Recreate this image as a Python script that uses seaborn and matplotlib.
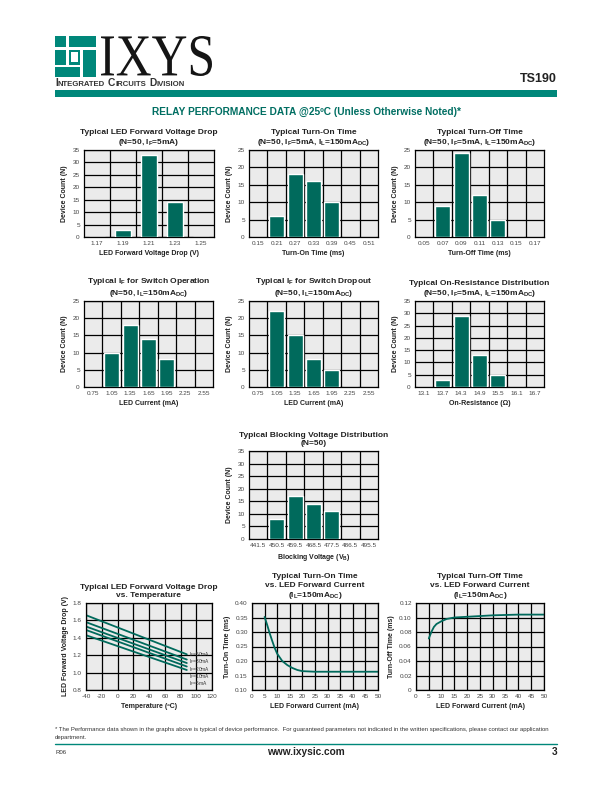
import numpy as np
import matplotlib
matplotlib.use('Agg')
import matplotlib.pyplot as plt
import seaborn as sns
from matplotlib.patches import Rectangle, PathPatch
from matplotlib.textpath import TextPath
from matplotlib.font_manager import FontProperties
from matplotlib.transforms import Affine2D

# ---- data ----
vf_bins = ['1.17', '1.19', '1.21', '1.23', '1.25']
vf_count = [0, 3, 33, 14, 0]
ton_bins = ['0.15', '0.21', '0.27', '0.33', '0.39', '0.45', '0.51']
ton_count = [0, 6, 18, 16, 10, 0, 0]
toff_bins = ['0.05', '0.07', '0.09', '0.11', '0.13', '0.15', '0.17']
toff_count = [0, 9, 24, 12, 5, 0, 0]
if_bins = ['0.75', '1.05', '1.35', '1.65', '1.95', '2.25', '2.55']
if_on_count = [0, 10, 18, 14, 8, 0, 0]
if_off_count = [0, 22, 15, 8, 5, 0, 0]
ron_bins = ['13.1', '13.7', '14.3', '14.9', '15.5', '16.1', '16.7']
ron_count = [0, 3, 29, 13, 5, 0, 0]
vb_bins = ['441.5', '450.5', '459.5', '468.5', '477.5', '486.5', '495.5']
vb_count = [0, 8, 17, 14, 11, 0, 0]

# LED forward voltage vs temperature (straight lines, end points)
temp = [-40, 88]
vf_lines = {
    '50mA': [1.66, 1.21],
    '30mA': [1.58, 1.15],
    '20mA': [1.53, 1.11],
    '10mA': [1.49, 1.07],
    '5mA': [1.43, 1.03],
}
vf_label_y = [1.21, 1.125, 1.04, 0.955, 0.87]

# turn-on / turn-off time vs LED current
ton_if = [5, 6, 7, 8, 9, 10, 12, 14, 16, 18, 20, 25, 30, 40, 50]
ton_ms = [0.352, 0.325, 0.296, 0.27, 0.245, 0.225, 0.20, 0.186, 0.176, 0.169, 0.165, 0.163, 0.163, 0.163, 0.163]
toff_if = [5, 6, 7, 8, 10, 12, 15, 20, 30, 40, 50]
toff_ms = [0.071, 0.080, 0.087, 0.091, 0.095, 0.098, 0.100, 0.101, 0.103, 0.104, 0.104]

TEAL = '#00877a'
BAR = '#006a5c'
BG = '#ebebeb'
TXT = '#222222'

sns.set_theme(style='white')
plt.rcParams['font.family'] = ['Liberation Sans', 'DejaVu Sans']
plt.rcParams['mathtext.fontset'] = 'custom'
plt.rcParams['mathtext.rm'] = 'Liberation Sans:bold'
plt.rcParams['mathtext.sf'] = 'Liberation Sans'
plt.rcParams['mathtext.default'] = 'rm'
plt.rcParams['axes.unicode_minus'] = False

W, H = 612, 792
fig = plt.figure(figsize=(W / 100, H / 100), dpi=100)

# page overlay in pixel coordinates
page = fig.add_axes([0, 0, 1, 1])
page.set_xlim(0, W)
page.set_ylim(H, 0)
page.axis('off')


def rect(x0, y0, x1, y1):
    return [x0 / W, 1 - y1 / H, (x1 - x0) / W, (y1 - y0) / H]


# ---- header ----
lx, ly, ls = 55, 36, 41
for a, b, c, d in [(0, 0, .28, .28), (.34, 0, 1, .28), (0, .34, .28, .70),
                   (0, .76, .62, 1), (.68, .34, 1, 1), (.34, .34, .62, .70)]:
    page.add_patch(Rectangle((lx + a * ls, ly + b * ls), (c - a) * ls, (d - b) * ls,
                             color=TEAL, lw=0))
page.add_patch(Rectangle((lx + .40 * ls, ly + .40 * ls), .16 * ls, .24 * ls, color='white', lw=0))

tp = TextPath((0, 0), 'IXYS', size=1, prop=FontProperties(family='Liberation Serif'))
bb = tp.get_extents()
tr = Affine2D().translate(-bb.x0, -bb.y0).scale(111 / bb.width, -40 / bb.height).translate(101, 76)
page.add_patch(PathPatch(tr.transform_path(tp), color='#151515', lw=0))

rend = fig.canvas.get_renderer()
x = 55
for word in ['Integrated', 'Circuits', 'Division']:
    for i, part in enumerate([word[0], word[1:]]):
        t = page.text(x, 86, part.upper(), fontsize=7.4 if i == 0 else 5.6,
                      fontweight='bold', color='#333333', va='baseline')
        x += t.get_window_extent(rend).width
    x += 3

page.text(557, 82, 'TS190', fontsize=9, fontweight='bold', color='#222222',
          ha='right', va='baseline')
page.add_patch(Rectangle((55, 89.5), 502, 7, color=TEAL, lw=0))
page.text(306, 112, 'RELAY PERFORMANCE DATA @25ºC (Unless Otherwise Noted)*',
          fontsize=7.3, fontweight='bold', color='#006e62', ha='center', va='center')

# ---- footer ----
page.text(55, 729, '* The Performance data shown in the graphs above is typical of device performance.  '
          'For guaranteed parameters not indicated in the written specifications, please contact our application',
          fontsize=4.35, color='#333333', va='center')
page.text(55, 737, 'department.', fontsize=4.35, color='#333333', va='center')
page.plot([55, 557], [744, 744], color=TEAL, lw=1)
page.text(55, 752, 'R06', fontsize=4.4, color='#333333', va='center')
page.text(306, 752, 'www.ixysic.com', fontsize=7.3, fontweight='bold', color='#222222',
          ha='center', va='center')
page.text(557, 752, '3', fontsize=7.3, fontweight='bold', color='#222222',
          ha='right', va='center')


def style(ax, title, xlabel, ylabel):
    ax.set_facecolor(BG)
    ax.set_axisbelow(True)
    for s in ax.spines.values():
        s.set_color('black')
        s.set_linewidth(0.9)
        s.set_visible(True)
    ax.tick_params(length=0, labelsize=4.6, labelcolor='#444444', pad=3)
    ax.set_title(title, fontsize=6, fontweight='bold', color=TXT, pad=4, linespacing=1.25)
    ax.set_xlabel(xlabel, fontsize=5, fontweight='bold', color=TXT, labelpad=3)
    ax.set_ylabel(ylabel, fontsize=5, fontweight='bold', color=TXT, labelpad=3)


def bar_panel(box, cats, counts, ymax, title, xlabel, width=0.82):
    ax = fig.add_axes(rect(*box))
    sns.barplot(x=cats, y=counts, ax=ax, color=BAR, saturation=1, width=width,
                errorbar=None, zorder=3)
    ax.set_xlim(-0.5, len(cats) - 0.5)
    ax.set_ylim(0, ymax)
    ax.set_yticks(range(0, ymax + 1, 5))
    ax.set_xticks(np.arange(len(cats) - 1) + 0.5, minor=True)
    ax.tick_params(which='minor', length=0)
    ax.grid(True, which='minor', axis='x', color='black', lw=0.9)
    ax.grid(True, which='major', axis='y', color='black', lw=0.9)
    ax.grid(False, which='major', axis='x')
    style(ax, title, xlabel, 'Device Count (N)')
    return ax


bar_panel((84, 150, 214, 237), vf_bins, vf_count, 35,
          'Typical LED Forward Voltage Drop\n(N=50, I$_F$=5mA)',
          'LED Forward Voltage Drop (V)', width=0.59)
bar_panel((249, 150, 378, 237), ton_bins, ton_count, 25,
          'Typical Turn-On Time\n(N=50, I$_F$=5mA, I$_L$=150mA$_{DC}$)', 'Turn-On Time (ms)')
bar_panel((415, 150, 544, 237), toff_bins, toff_count, 25,
          'Typical Turn-Off Time\n(N=50, I$_F$=5mA, I$_L$=150mA$_{DC}$)', 'Turn-Off Time (ms)')
bar_panel((84, 301, 213, 387), if_bins, if_on_count, 25,
          'Typical I$_F$ for Switch Operation\n(N=50, I$_L$=150mA$_{DC}$)', 'LED Current (mA)')
bar_panel((249, 301, 378, 387), if_bins, if_off_count, 25,
          'Typical I$_F$ for Switch Dropout\n(N=50, I$_L$=150mA$_{DC}$)', 'LED Current (mA)')
bar_panel((415, 301, 544, 387), ron_bins, ron_count, 35,
          'Typical On-Resistance Distribution\n(N=50, I$_F$=5mA, I$_L$=150mA$_{DC}$)',
          'On-Resistance (Ω)')
bar_panel((249, 451, 378, 539), vb_bins, vb_count, 35,
          'Typical Blocking Voltage Distribution\n(N=50)', 'Blocking Voltage (V$_B$)')


def line_panel(box, xlim, xstep, ylim, ystep, ylabels, title, xlabel, ylabel):
    ax = fig.add_axes(rect(*box))
    ax.set_xlim(*xlim)
    ax.set_ylim(*ylim)
    ax.set_xticks(np.arange(xlim[0], xlim[1] + xstep / 2, xstep))
    ax.set_yticks(np.arange(ylim[0], ylim[1] + ystep / 2, ystep))
    ax.set_yticklabels(ylabels)
    ax.grid(True, color='black', lw=0.9)
    style(ax, title, xlabel, ylabel)
    return ax


ax8 = line_panel((86, 603, 212, 690), (-40, 120), 20, (0.8, 1.8), 0.2,
                 ['0.8', '1.0', '1.2', '1.4', '1.6', '1.8'],
                 'Typical LED Forward Voltage Drop\nvs. Temperature',
                 'Temperature (ºC)', 'LED Forward Voltage Drop (V)')
for (name, vals), ly_ in zip(vf_lines.items(), vf_label_y):
    sns.lineplot(x=temp, y=vals, ax=ax8, color=BAR, lw=1.3)
    ax8.text(91, ly_, r'$\mathsf{I_F}$=' + name, fontsize=3.5, color='#333333', va='center')

ax9 = line_panel((252, 603, 378, 690), (0, 50), 5, (0.10, 0.40), 0.05,
                 ['0.10', '0.15', '0.20', '0.25', '0.30', '0.35', '0.40'],
                 'Typical Turn-On Time\nvs. LED Forward Current\n(I$_L$=150mA$_{DC}$)',
                 'LED Forward Current (mA)', 'Turn-On Time (ms)')
sns.lineplot(x=ton_if, y=ton_ms, ax=ax9, color=BAR, lw=1.3)

ax10 = line_panel((416, 603, 544, 690), (0, 50), 5, (0, 0.12), 0.02,
                  ['0', '0.02', '0.04', '0.06', '0.08', '0.10', '0.12'],
                  'Typical Turn-Off Time\nvs. LED Forward Current\n(I$_L$=150mA$_{DC}$)',
                  'LED Forward Current (mA)', 'Turn-Off Time (ms)')
sns.lineplot(x=toff_if, y=toff_ms, ax=ax10, color=BAR, lw=1.3)

fig.savefig('out.png', dpi=100, facecolor='white')
